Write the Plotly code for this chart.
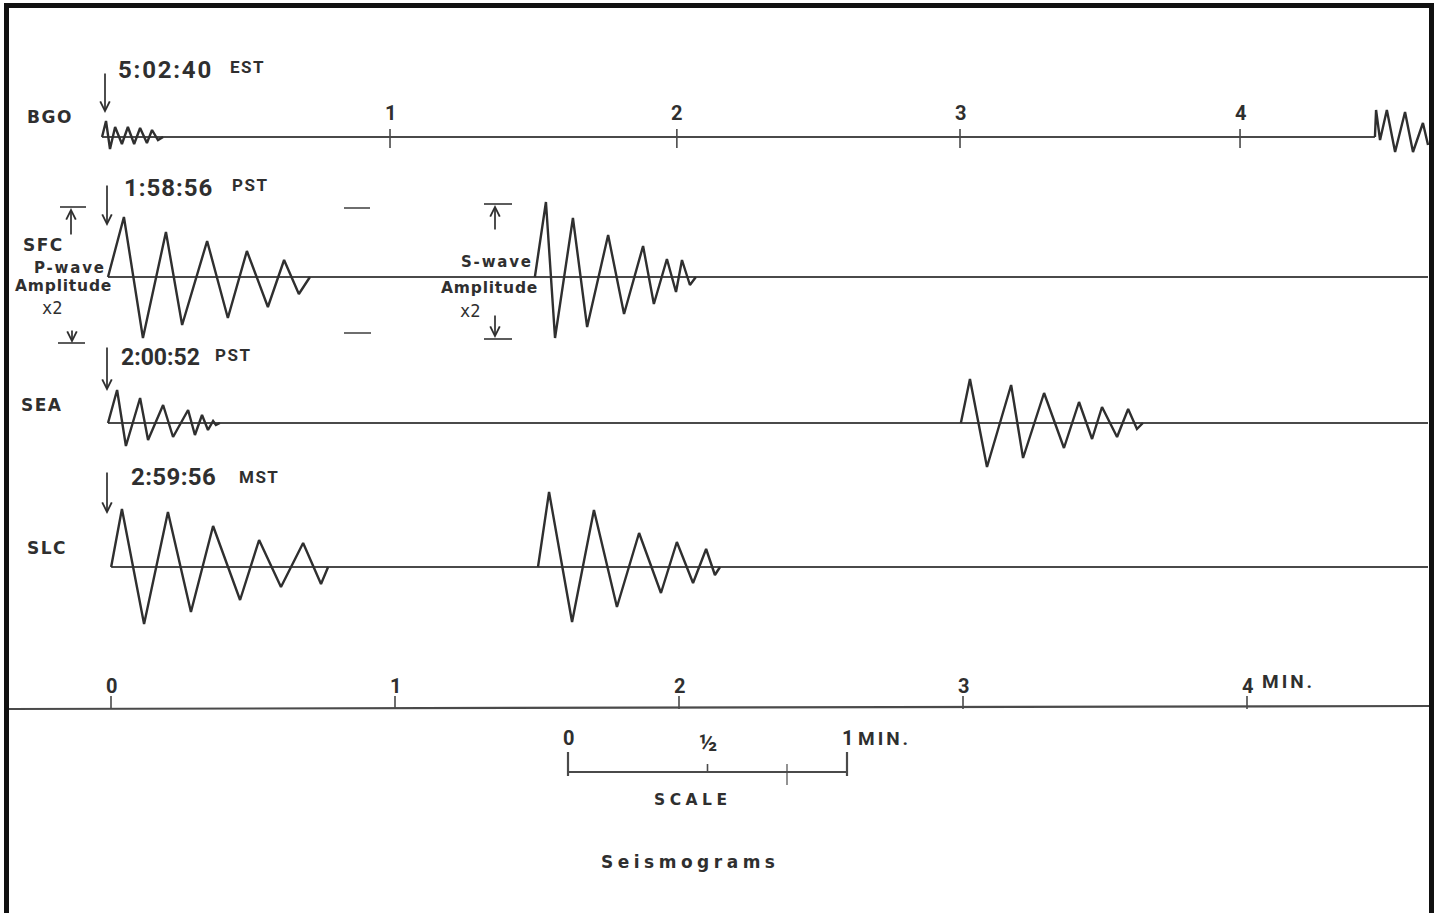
import plotly.graph_objects as go

# ---------------- data ----------------
stations = ["BGO", "SFC", "SEA", "SLC"]
arrival_times = ["5:02:40", "1:58:56", "2:00:52", "2:59:56"]
time_zones = ["EST", "PST", "PST", "MST"]

# time in minutes after first arrival, amplitude in trace units (up positive)
bgo_p_t = [-0.028, -0.014, 0.000, 0.018, 0.042, 0.063, 0.085, 0.106, 0.130, 0.148, 0.169, 0.187]
bgo_p_amp = [0, 16, -12, 10, -7, 10, -7, 9, -6, 7, -3, 0]
bgo_s_t = [4.454, 4.458, 4.472, 4.496, 4.525, 4.560, 4.588, 4.623, 4.641]
bgo_s_amp = [0, 27, -3, 27, -15, 25, -15, 14, -8]

sfc_p_t = [-0.007, 0.049, 0.116, 0.197, 0.254, 0.342, 0.415, 0.482, 0.556, 0.613, 0.665, 0.704]
sfc_p_amp = [0, 60, -61, 45, -48, 36, -41, 26, -30, 17, -17, 0]
sfc_s_t = [1.496, 1.535, 1.567, 1.630, 1.680, 1.754, 1.810, 1.877, 1.915, 1.961, 1.993, 2.014, 2.042, 2.063]
sfc_s_amp = [0, 75, -61, 59, -50, 42, -37, 31, -27, 18, -15, 17, -8, 0]

sea_p_t = [-0.007, 0.025, 0.056, 0.106, 0.134, 0.187, 0.222, 0.275, 0.299, 0.324, 0.345, 0.363, 0.373, 0.387]
sea_p_amp = [0, 33, -23, 25, -17, 18, -14, 13, -12, 8, -7, 2, -2, 0]
sea_s_t = [2.996, 3.028, 3.088, 3.173, 3.215, 3.289, 3.359, 3.412, 3.458, 3.493, 3.546, 3.585, 3.616, 3.637]
sea_s_amp = [0, 44, -44, 38, -35, 30, -25, 21, -16, 16, -14, 14, -6, 0]

slc_p_t = [0.004, 0.042, 0.120, 0.204, 0.285, 0.363, 0.458, 0.525, 0.602, 0.680, 0.743, 0.768]
slc_p_amp = [0, 58, -57, 55, -45, 41, -33, 27, -20, 24, -17, 0]
slc_s_t = [1.507, 1.546, 1.627, 1.704, 1.785, 1.863, 1.940, 1.996, 2.053, 2.099, 2.130, 2.148]
slc_s_amp = [0, 75, -55, 57, -40, 34, -26, 25, -16, 18, -8, 0]

bgo_tick_t = [0.986, 1.996, 2.993, 3.979]
bgo_tick_labels = ["1", "2", "3", "4"]
time_axis_ticks = [0, 1, 2, 3, 4]
time_axis_labels = ["0", "1", "2", "3", "4"]
scale_ticks = [0, 0.5, 1]
scale_labels = ["0", "½", "1"]

# ---------------- layout helpers ----------------
W, H = 1440, 913
X0_PX, PX_PER_MIN = 110, 284
INK = "#2f2f2f"
LINE = "#4a4a4a"
NARROW = "Roboto, Liberation Sans Narrow, sans-serif"
WIDE = "DejaVu Sans, Verdana, sans-serif"


def X(px):
    return (px - X0_PX) / PX_PER_MIN


def Y(py):
    return H - py


baselines_px = [137, 277, 423, 567]
waves = [
    [(bgo_p_t, bgo_p_amp), (bgo_s_t, bgo_s_amp)],
    [(sfc_p_t, sfc_p_amp), (sfc_s_t, sfc_s_amp)],
    [(sea_p_t, sea_p_amp), (sea_s_t, sea_s_amp)],
    [(slc_p_t, slc_p_amp), (slc_s_t, slc_s_amp)],
]

fig = go.Figure()

# baselines
for i, b in enumerate(baselines_px):
    t_start = waves[i][0][0][0]
    t_end = X(1428) if i > 0 else waves[i][1][0][0]
    fig.add_trace(go.Scatter(x=[t_start, t_end], y=[Y(b), Y(b)], mode="lines",
                             line=dict(color=LINE, width=1.8), hoverinfo="skip", showlegend=False))

# waveforms
for i, b in enumerate(baselines_px):
    for t, a in waves[i]:
        fig.add_trace(go.Scatter(x=t, y=[Y(b) + v for v in a], mode="lines",
                                 line=dict(color=INK, width=2.4), hoverinfo="skip", showlegend=False))

# bottom time axis
fig.add_trace(go.Scatter(x=[X(8), X(1432)], y=[Y(709), Y(706)], mode="lines",
                         line=dict(color=LINE, width=2.2), hoverinfo="skip", showlegend=False))

shapes = []


def seg(x0, y0, x1, y1, w=1.8, color=LINE):
    shapes.append(dict(type="line", xref="x", yref="y", x0=X(x0), y0=Y(y0), x1=X(x1), y1=Y(y1),
                       line=dict(color=color, width=w)))


# ticks on the BGO line
for t in bgo_tick_t:
    px = X0_PX + t * PX_PER_MIN
    seg(px, 129, px, 148, 1.6)

# ticks on the bottom axis
for t in time_axis_ticks:
    px = X0_PX + 1 + t * PX_PER_MIN
    seg(px, 696, px, 709, 1.6)

# scale bar
SCALE_X0, SCALE_PX = 568, 279
seg(SCALE_X0, 772, SCALE_X0 + SCALE_PX, 772, 2.0)
seg(SCALE_X0, 752, SCALE_X0, 776, 2.2)
seg(SCALE_X0 + SCALE_PX, 752, SCALE_X0 + SCALE_PX, 776, 2.2)
seg(SCALE_X0 + 0.5 * SCALE_PX, 764, SCALE_X0 + 0.5 * SCALE_PX, 772, 1.6)
seg(787, 764, 787, 785, 1.2)

# amplitude bars
seg(60, 207, 86, 207, 1.8)
seg(58, 343, 85, 343, 1.8)
seg(484, 204, 512, 204, 1.8)
seg(484, 339, 512, 339, 1.8)
seg(344, 208, 370, 208, 1.6)
seg(344, 333, 371, 333, 1.6)

# frame
shapes.append(dict(type="line", xref="paper", yref="paper", x0=6.5 / W, x1=6.5 / W, y0=0, y1=1 - 3 / H,
                   line=dict(color="#111", width=5)))
shapes.append(dict(type="line", xref="paper", yref="paper", x0=4 / W, x1=1434 / W, y0=1 - 5.5 / H, y1=1 - 5.5 / H,
                   line=dict(color="#111", width=5)))
shapes.append(dict(type="line", xref="paper", yref="paper", x0=1431.5 / W, x1=1431.5 / W, y0=0, y1=1 - 3 / H,
                   line=dict(color="#111", width=5)))

annotations = []


def text(s, cx, cy, size, family=WIDE, bold=True, anchor="center", spacing=0, color=INK):
    content = f"<b>{s}</b>" if bold else s
    if spacing:
        content = f'<span style="letter-spacing:{spacing}px">{content}</span>'
    annotations.append(dict(text=content, x=X(cx), y=Y(cy), xref="x", yref="y", showarrow=False,
                            xanchor=anchor, yanchor="middle",
                            font=dict(family=family, size=size, color=color)))


def arrow(x_px, tail_py, head_py):
    annotations.append(dict(text="", x=X(x_px), y=Y(head_py), ax=X(x_px), ay=Y(tail_py),
                            xref="x", yref="y", axref="x", ayref="y", showarrow=True,
                            arrowhead=5, arrowsize=1.1, arrowwidth=1.7, arrowcolor=INK))


# station labels
label_pos = [(50, 117), (43, 245), (42, 405), (47, 548)]
for s, (cx, cy) in zip(stations, label_pos):
    text(s, cx, cy, 17, spacing=1.5)

# arrival times
time_pos = [(116, 70), (122, 188), (119, 357), (129, 477)]
time_sizes = [24, 24, 23, 24]
time_spacing = [1.8, 1.0, 0, 0.4]
zone_pos = [(228, 67), (230, 185), (213, 355), (237, 477)]
for s, z, (tx, ty), (zx, zy), fs, sp in zip(arrival_times, time_zones, time_pos, zone_pos,
                                             time_sizes, time_spacing):
    text(s, tx, ty, fs, family=NARROW, anchor="left", spacing=sp)
    text(z, zx, zy, 17, family=NARROW, anchor="left", spacing=1.5)

# arrival arrows
arrow(105, 72, 113)
arrow(107, 184, 226)
arrow(107, 346, 391)
arrow(107, 471, 514)

# amplitude arrows
arrow(71, 236, 208)
arrow(72, 329, 343)
arrow(495, 231, 205)
arrow(495, 314, 338)

# amplitude labels
text("P-wave", 70, 268, 15, spacing=1.8)
text("Amplitude", 63, 286, 15.5, spacing=0.8)
text("x2", 52, 308, 17, bold=False, family="DejaVu Sans Mono, monospace")
text("S-wave", 497, 262, 15, spacing=1.8)
text("Amplitude", 489, 288, 15.5, spacing=0.8)
text("x2", 470, 311, 17, bold=False, family="DejaVu Sans Mono, monospace")

# BGO tick labels
for t, lab in zip(bgo_tick_t, bgo_tick_labels):
    text(lab, X0_PX + t * PX_PER_MIN, 113, 20, family=NARROW)

# bottom axis labels
for t, lab in zip(time_axis_ticks, time_axis_labels):
    text(lab, X0_PX + 1 + t * PX_PER_MIN, 686, 20, family=NARROW)
text("MIN.", 1260, 681, 19, family=NARROW, anchor="left", spacing=3)

# scale labels
for t, lab in zip(scale_ticks, scale_labels):
    text(lab, SCALE_X0 + t * SCALE_PX, 738 if lab != "½" else 743, 20 if lab != "½" else 24, family=NARROW)
text("MIN.", 856, 738, 19, family=NARROW, anchor="left", spacing=3)
text("SCALE", 693, 800, 15.5, spacing=4.5)
text("Seismograms", 690, 862, 17, spacing=4.5)

fig.update_layout(
    width=W, height=H, margin=dict(l=0, r=0, t=0, b=0),
    paper_bgcolor="white", plot_bgcolor="white",
    xaxis=dict(range=[X(0), X(W)], visible=False, fixedrange=True),
    yaxis=dict(range=[0, H], visible=False, fixedrange=True),
    shapes=shapes, annotations=annotations, showlegend=False,
)

fig.write_html("out.html", config=dict(displayModeBar=False),
               post_script="document.body.style.margin='0';document.body.style.overflow='hidden';")
